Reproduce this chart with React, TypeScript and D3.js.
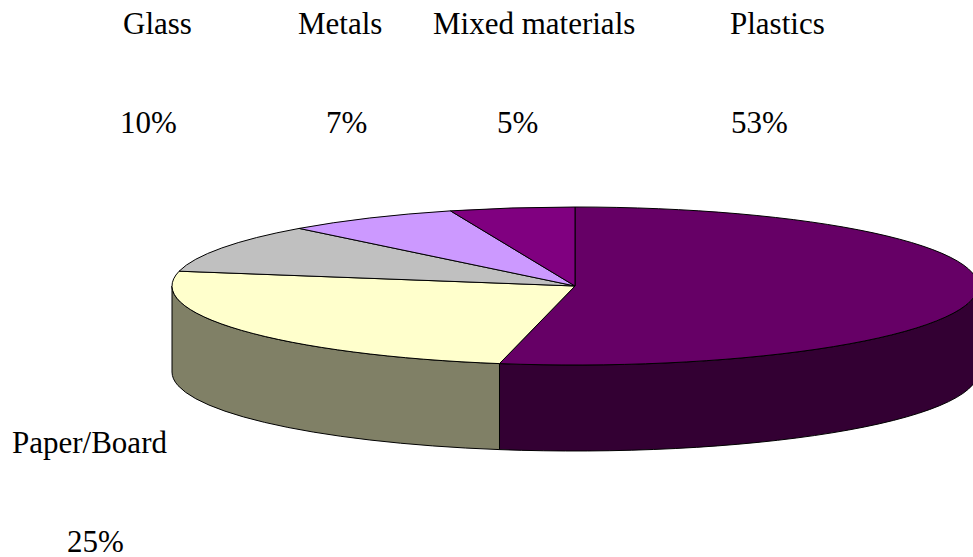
import React from "react";
import * as d3 from "d3";

const categories = ["Plastics", "Paper/Board", "Glass", "Metals", "Mixed materials"];
const values = [53, 25, 10, 7, 5];
const percentLabels = ["53%", "25%", "10%", "7%", "5%"];

const topColors = ["#660066", "#FFFFCC", "#C0C0C0", "#CC99FF", "#800080"];

// label anchor positions (layout only)
const labelPos: Record<string, { name: [number, number]; pct: [number, number] }> = {
  "Plastics": { name: [730, 34], pct: [731, 133] },
  "Paper/Board": { name: [12, 453], pct: [67, 552] },
  "Glass": { name: [123, 34], pct: [120, 133] },
  "Metals": { name: [298, 34], pct: [326, 133] },
  "Mixed materials": { name: [433, 34], pct: [497, 133] },
};

const W = 973;
const H = 557;
const cx = 575;
const cy = 286;
const rx = 403;
const ry = 79;
const depth = 86;

function pt(a: number, dy = 0): [number, number] {
  return [cx + rx * Math.sin(a), cy - ry * Math.cos(a) + dy];
}

function darken(c: string) {
  const col = d3.rgb(c);
  return d3.rgb(col.r * 0.5, col.g * 0.5, col.b * 0.5).toString();
}

export default function App() {
  const pie = d3
    .pie<number>()
    .sort(null)
    .startAngle(0)
    .endAngle(2 * Math.PI)
    .value((d) => d);
  const arcs = pie(values);

  const tops = arcs.map((a, i) => {
    const p0 = pt(a.startAngle);
    const p1 = pt(a.endAngle);
    const large = a.endAngle - a.startAngle > Math.PI ? 1 : 0;
    const d = `M${cx},${cy}L${p0[0]},${p0[1]}A${rx},${ry} 0 ${large} 1 ${p1[0]},${p1[1]}Z`;
    return { d, fill: topColors[i], key: categories[i] };
  });

  const sides: { d: string; fill: string; key: string }[] = [];
  arcs.forEach((a, i) => {
    const s = Math.max(a.startAngle, Math.PI / 2);
    const e = Math.min(a.endAngle, (3 * Math.PI) / 2);
    if (e <= s) return;
    const p0 = pt(s);
    const p1 = pt(e);
    const q1 = pt(e, depth);
    const q0 = pt(s, depth);
    const large = e - s > Math.PI ? 1 : 0;
    const d = `M${p0[0]},${p0[1]}A${rx},${ry} 0 ${large} 1 ${p1[0]},${p1[1]}L${q1[0]},${q1[1]}A${rx},${ry} 0 ${large} 0 ${q0[0]},${q0[1]}Z`;
    sides.push({ d, fill: darken(topColors[i]), key: categories[i] });
  });

  return (
    <svg
      width={W}
      height={H}
      style={{ position: "absolute", left: 0, top: 0, background: "#fff" }}
      fontFamily="'Liberation Serif', 'Times New Roman', serif"
    >
      <rect width={W} height={H} fill="#fff" />
      <g stroke="#000" strokeWidth={1} strokeLinejoin="round">
        {sides.map((s) => (
          <path key={"s" + s.key} d={s.d} fill={s.fill} />
        ))}
        {tops.map((t) => (
          <path key={"t" + t.key} d={t.d} fill={t.fill} />
        ))}
      </g>
      <g fontSize={31} fill="#000">
        {categories.map((c, i) => (
          <g key={"l" + c}>
            <text x={labelPos[c].name[0]} y={labelPos[c].name[1]}>{c}</text>
            <text x={labelPos[c].pct[0]} y={labelPos[c].pct[1]}>{percentLabels[i]}</text>
          </g>
        ))}
      </g>
    </svg>
  );
}
